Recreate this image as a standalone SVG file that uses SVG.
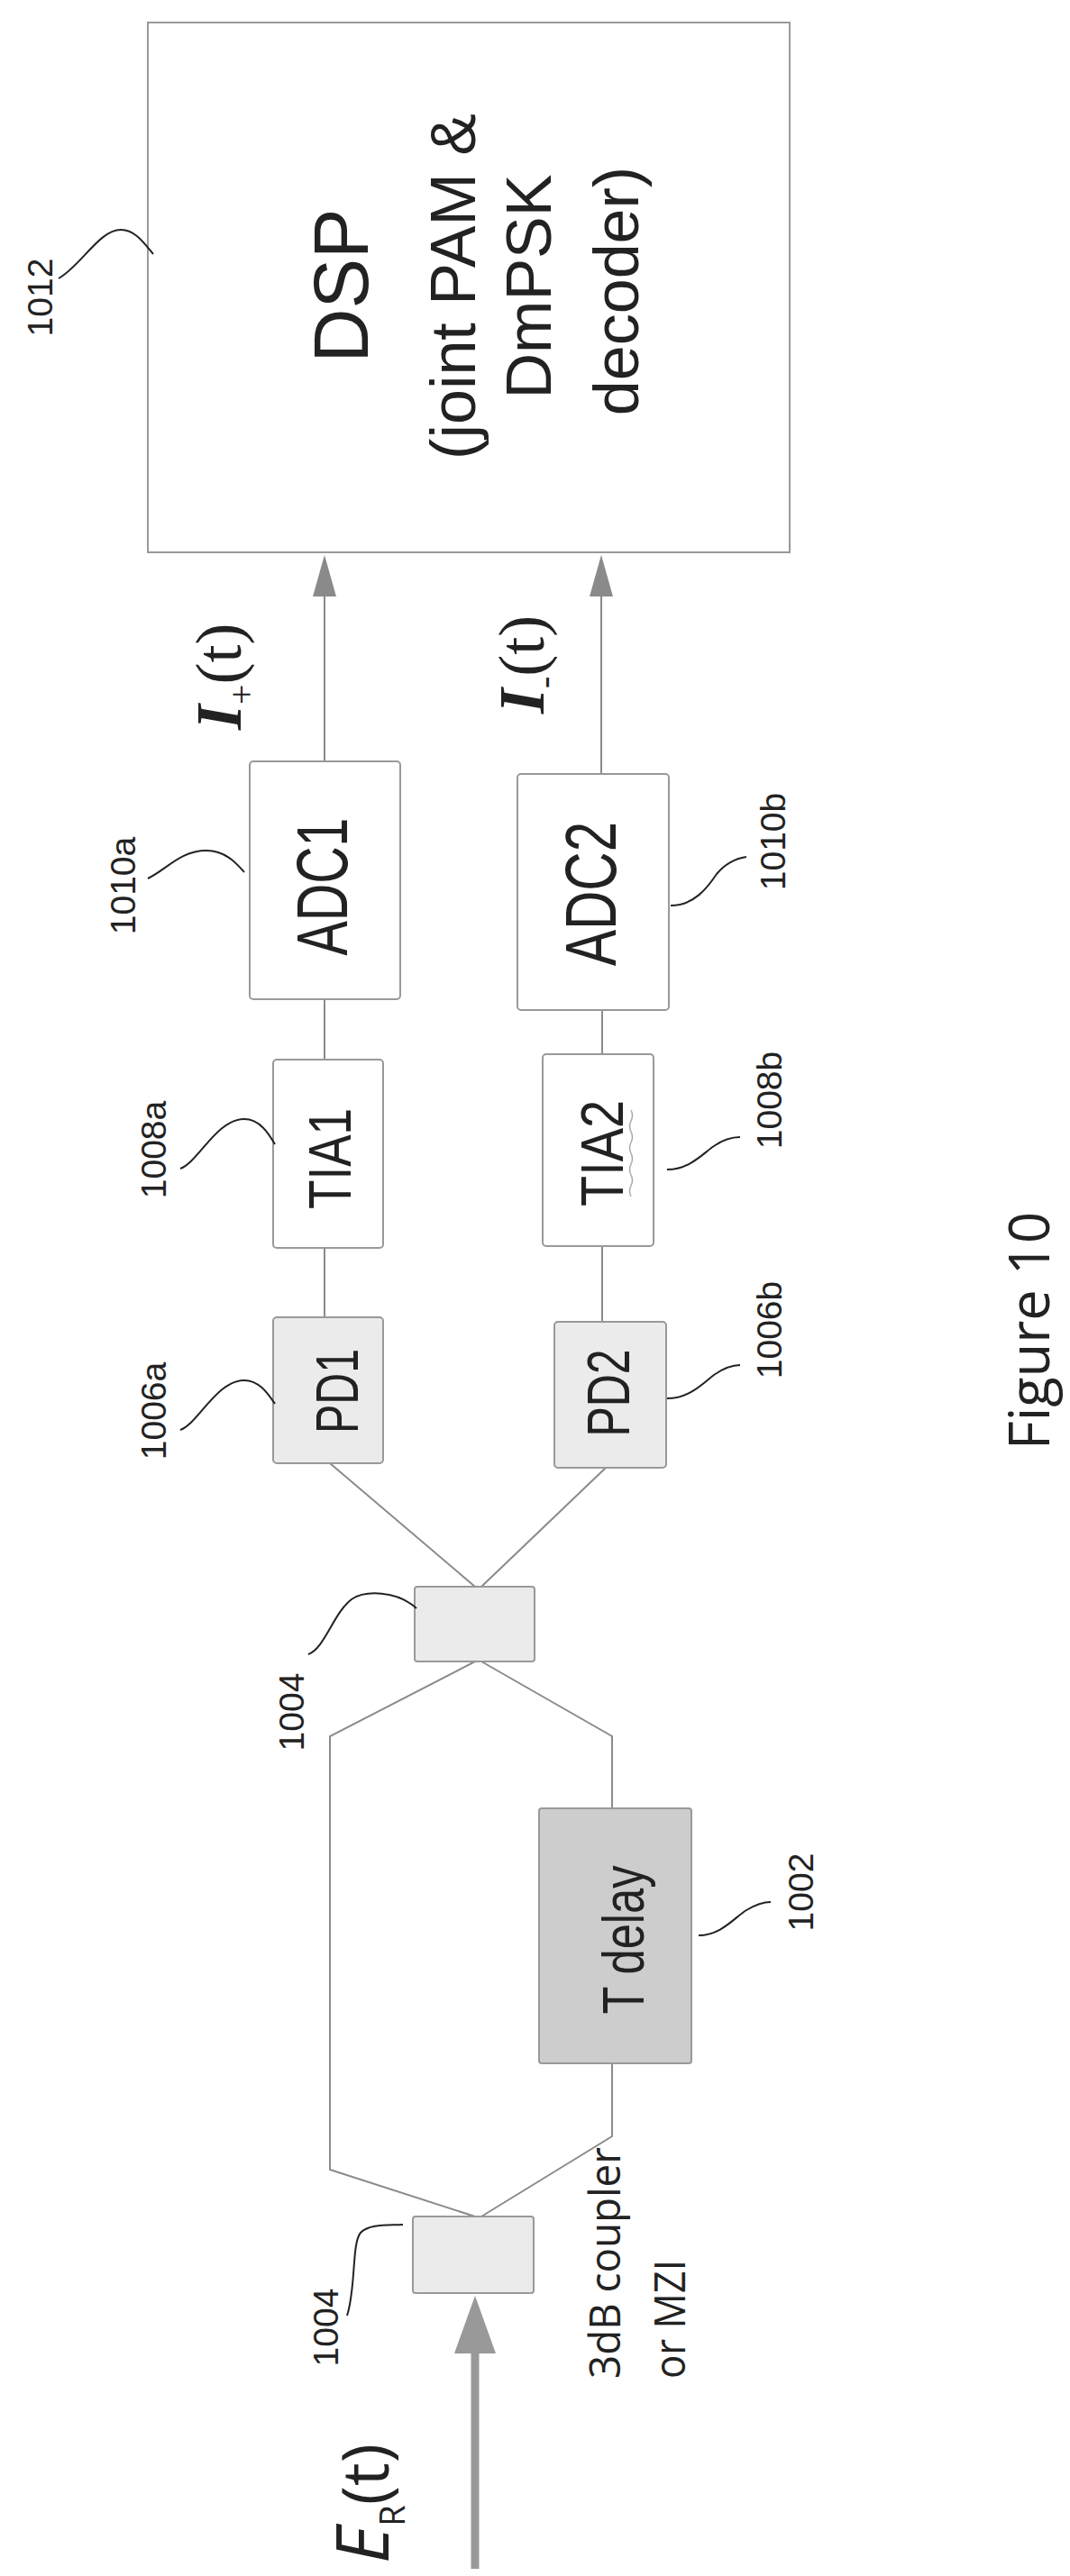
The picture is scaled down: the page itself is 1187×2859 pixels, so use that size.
<svg xmlns="http://www.w3.org/2000/svg" width="1187" height="2859" viewBox="0 0 1187 2859">
<style>
.box{fill:#fff;stroke:#999;stroke-width:2}
.dot{fill:#ebebeb;stroke:#999;stroke-width:2}
.dark{fill:#cdcdcd;stroke:#999;stroke-width:2}
.ln{fill:none;stroke:#8a8a8a;stroke-width:2}
.ld{fill:none;stroke:#222;stroke-width:2}
.t{font-family:"Liberation Sans",Arial,sans-serif;fill:#222;text-anchor:middle}
.n{font-family:"Liberation Sans",Arial,sans-serif;fill:#222;font-size:39px;text-anchor:middle}
.o{font-family:"Open Sans","Liberation Sans",sans-serif;fill:#222}
.s{font-family:"Liberation Serif","Times New Roman",serif;fill:#222}
</style>

<g id="connectors">
<line class="ln" x1="360" y1="845" x2="360" y2="660"/>
<path d="M347,662 L360,616 L373,662 Z" fill="#8a8a8a"/>
<line class="ln" x1="667" y1="859" x2="667" y2="660"/>
<path d="M654,662 L667,616 L680,662 Z" fill="#8a8a8a"/>
<line class="ln" x1="360" y1="1109" x2="360" y2="1176"/>
<line class="ln" x1="668" y1="1121" x2="668" y2="1170"/>
<line class="ln" x1="360" y1="1385" x2="360" y2="1462"/>
<line class="ln" x1="668" y1="1383" x2="668" y2="1467"/>
<polyline class="ln" points="366,1624 527,1761"/>
<polyline class="ln" points="672,1629 534,1761"/>
<polyline class="ln" points="527,1844 366,1927 366,2408 527,2460"/>
<polyline class="ln" points="534,1844 679,1927 679,2007"/>
<polyline class="ln" points="679,2290 679,2371 534,2460"/>
<line x1="527" y1="2851" x2="527" y2="2605" stroke="#999" stroke-width="9"/>
<path d="M504,2612 L527,2548 L550,2612 Z" fill="#999"/>
</g>

<g id="n1012">
<rect class="box" x="164" y="25" width="712" height="588"/>
<text class="t" transform="translate(408,317) rotate(-90)" font-size="86" textLength="171" lengthAdjust="spacingAndGlyphs">DSP</text>
<text class="t" transform="translate(527,318) rotate(-90)" font-size="70">(joint PAM &amp;</text>
<text class="t" transform="translate(611,318) rotate(-90)" font-size="70">DmPSK</text>
<text class="t" transform="translate(708,323) rotate(-90)" font-size="70">decoder)</text>
<text class="n" transform="translate(58,330) rotate(-90)">1012</text>
<path class="ld" d="M65,309 C90,295 110,255 134,255 C150,255 160,270 170,282"/>
</g>

<g id="n1010a">
<rect class="box" x="277" y="845" width="167" height="264" rx="4"/>
<text class="t" transform="translate(385,984) rotate(-90)" font-size="80" textLength="153" lengthAdjust="spacingAndGlyphs">ADC1</text>
<text class="n" transform="translate(150,983) rotate(-90)">1010a</text>
<path class="ld" d="M164,975 C185,965 200,944 229,944 C250,944 262,958 271,968"/>
</g>

<g id="n1010b">
<rect class="box" x="574" y="859" width="168" height="262" rx="4"/>
<text class="t" transform="translate(683,992) rotate(-90)" font-size="80" textLength="160" lengthAdjust="spacingAndGlyphs">ADC2</text>
<text class="n" transform="translate(871,934) rotate(-90)">1010b</text>
<path class="ld" d="M744,1005 C770,1005 785,985 795,970 C805,958 815,953 828,951"/>
</g>

<g id="labels-I">
<text class="s" transform="translate(267,810) rotate(-90)" font-size="72"><tspan font-weight="bold" font-style="italic">I</tspan><tspan font-size="40" dy="14">+</tspan><tspan dy="-14">(t)</tspan></text>
<text class="s" transform="translate(603,792) rotate(-90)" font-size="72"><tspan font-weight="bold" font-style="italic">I</tspan><tspan font-size="40" dy="14">-</tspan><tspan dy="-14">(t)</tspan></text>
</g>

<g id="n1008a">
<rect class="box" x="303" y="1176" width="122" height="209" rx="4"/>
<text class="t" transform="translate(389,1286) rotate(-90)" font-size="66" textLength="112" lengthAdjust="spacingAndGlyphs">TIA1</text>
<text class="n" transform="translate(184,1276) rotate(-90)">1008a</text>
<path class="ld" d="M200,1297 C220,1290 240,1242 271,1242 C288,1242 298,1258 305,1270"/>
</g>

<g id="n1008b">
<rect class="box" x="602" y="1170" width="123" height="213" rx="4"/>
<text class="t" transform="translate(691,1280) rotate(-90)" font-size="66" textLength="118" lengthAdjust="spacingAndGlyphs">TIA2</text>
<path d="M700,1232 q3,6 0,12 t0,12 t0,12 t0,12 t0,12 t0,12 t0,12 t0,12" fill="none" stroke="#aaa" stroke-width="1.5"/>
<text class="n" transform="translate(867,1221) rotate(-90)">1008b</text>
<path class="ld" d="M740,1298 C765,1298 780,1280 792,1272 C802,1265 812,1262 821,1262"/>
</g>

<g id="n1006a">
<rect class="dot" x="303" y="1462" width="122" height="162" rx="4"/>
<text class="t" transform="translate(397,1544) rotate(-90)" font-size="66" textLength="94" lengthAdjust="spacingAndGlyphs">PD1</text>
<text class="n" transform="translate(184,1566) rotate(-90)">1006a</text>
<path class="ld" d="M200,1587 C220,1580 240,1532 271,1532 C288,1532 298,1548 305,1558"/>
</g>

<g id="n1006b">
<rect class="dot" x="615" y="1467" width="124" height="162" rx="4"/>
<text class="t" transform="translate(698,1546) rotate(-90)" font-size="66" textLength="97" lengthAdjust="spacingAndGlyphs">PD2</text>
<text class="n" transform="translate(867,1476) rotate(-90)">1006b</text>
<path class="ld" d="M740,1552 C765,1552 780,1535 792,1526 C802,1519 812,1515 821,1515"/>
</g>

<g id="n1004-upper">
<rect class="dot" x="460" y="1761" width="133" height="83" rx="3"/>
<text class="n" transform="translate(337,1900) rotate(-90)">1004</text>
<path class="ld" d="M342,1836 C360,1830 370,1790 390,1775 C405,1765 440,1765 462,1785"/>
</g>

<g id="figure-label">
<text class="o" transform="translate(1164,1477) rotate(-90)" font-size="62" text-anchor="middle" textLength="264" lengthAdjust="spacingAndGlyphs">Figure 10</text>
</g>

<g id="n1002">
<rect class="dark" x="598" y="2007" width="169" height="283" rx="3"/>
<text class="t" transform="translate(714,2153) rotate(-90)" font-size="64" textLength="165" lengthAdjust="spacingAndGlyphs">T delay</text>
<text class="n" transform="translate(902,2100) rotate(-90)">1002</text>
<path class="ld" d="M775,2148 C800,2148 815,2128 828,2120 C838,2114 846,2111 855,2111"/>
</g>

<g id="n1004-lower">
<rect class="dot" x="458" y="2460" width="134" height="85" rx="3"/>
<text class="n" transform="translate(375,2583) rotate(-90)">1004</text>
<path class="ld" d="M385,2570 C395,2540 390,2490 400,2478 C410,2468 430,2470 447,2469"/>
<text class="o" transform="translate(688,2640) rotate(-90)" font-size="48" textLength="257" lengthAdjust="spacingAndGlyphs">3dB coupler</text>
<text class="o" transform="translate(760,2640) rotate(-90)" font-size="48" textLength="132" lengthAdjust="spacingAndGlyphs">or MZI</text>
</g>

<g id="input-label">
<text class="o" transform="translate(431,2845) rotate(-90)" font-size="80"><tspan font-style="italic">E</tspan><tspan font-size="38" dy="18">R</tspan><tspan dy="-18" font-size="72">(t)</tspan></text>
</g>
</svg>
